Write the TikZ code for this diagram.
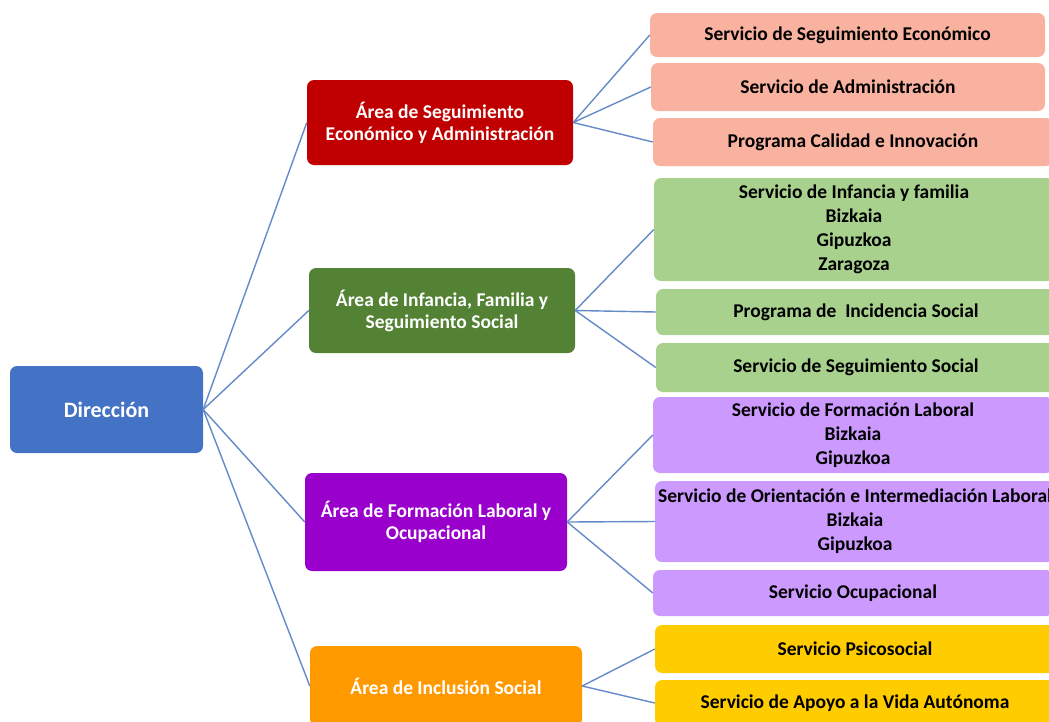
\documentclass[tikz,border=0pt]{standalone}
\usepackage{fontspec}
\setmainfont{Carlito}
\definecolor{dirblue}{RGB}{68,114,196}
\definecolor{areared}{RGB}{192,0,0}
\definecolor{areagreen}{RGB}{84,130,53}
\definecolor{areapurple}{RGB}{153,0,204}
\definecolor{areaorange}{RGB}{255,153,0}
\definecolor{servred}{RGB}{250,178,160}
\definecolor{servgreen}{RGB}{169,209,142}
\definecolor{servpurple}{RGB}{204,153,255}
\definecolor{servyellow}{RGB}{255,204,0}
\definecolor{linkblue}{RGB}{100,138,200}
\usepackage{tikz}

\begin{document}
\begin{tikzpicture}[x=1pt, y=-1pt,
    every node/.style={font=\fontsize{19.5}{24}\selectfont\bfseries, align=center, rounded corners=7pt, inner sep=0pt},
    area/.style={text=white, font=\fontsize{19.5}{22}\selectfont\bfseries},
    serv/.style={text=black, minimum width=400pt},
    link/.style={draw=linkblue, line width=1.4pt}]
    \useasboundingbox (0,0) rectangle (1049,721);
    \node[fill=dirblue, text=white, font=\fontsize{22}{26}\selectfont\bfseries, minimum width=193pt, minimum height=87pt] (dir) at (106.5,409.5) {Dirección};
    % areas
    \node[area, fill=areared, minimum width=266pt, minimum height=85pt] (seg) at (440,122.5) {Área de Seguimiento\\Económico y Administración};
    \node[area, fill=areagreen, minimum width=266pt, minimum height=85pt] (inf) at (442,310.5) {Área de Infancia, Familia y\\Seguimiento Social};
    \node[area, fill=areapurple, minimum width=262pt, minimum height=98pt] (for) at (436,522) {Área de Formación Laboral y\\Ocupacional};
    \node[area, fill=areaorange, minimum width=272pt, minimum height=80pt] (inc) at (446,686) {Área de Inclusión Social};
    % services
    \node[serv, fill=servred, minimum width=395pt, minimum height=44pt] (segeco) at (847.5,35) {Servicio de Seguimiento Económico};
    \node[serv, fill=servred, minimum width=394pt, minimum height=48pt] (segadm) at (848,87) {Servicio de Administración};
    \node[serv, fill=servred, minimum height=48pt] (segcal) at (853,142) {Programa Calidad e Innovación};
    \node[serv, fill=servgreen, minimum height=103pt] (infser) at (854,229.5) {Servicio de Infancia y familia\\Bizkaia\\Gipuzkoa\\Zaragoza};
    \node[serv, fill=servgreen, minimum height=46pt] (infpro) at (856,312) {Programa de\ \ Incidencia Social};
    \node[serv, fill=servgreen, minimum height=49pt] (infseg) at (856,367.5) {Servicio de Seguimiento Social};
    \node[serv, fill=servpurple, minimum height=76pt] (forlab) at (853,435) {Servicio de Formación Laboral\\Bizkaia\\Gipuzkoa};
    \node[serv, fill=servpurple, minimum height=81pt] (forori) at (855,521.5) {Servicio de Orientación e Intermediación Laboral\\Bizkaia\\Gipuzkoa};
    \node[serv, fill=servpurple, minimum height=46pt] (forocu) at (853,593) {Servicio Ocupacional};
    \node[serv, fill=servyellow, minimum height=48pt] (incpsi) at (855,649) {Servicio Psicosocial};
    \node[serv, fill=servyellow, minimum height=46pt] (incapo) at (855,703) {Servicio de Apoyo a la Vida Autónoma};
    % links
    \draw[link] (dir.east) -- (seg.west);
    \draw[link] (dir.east) -- (inf.west);
    \draw[link] (dir.east) -- (for.west);
    \draw[link] (dir.east) -- (inc.west);
    \draw[link] (seg.east) -- (segeco.west);
    \draw[link] (seg.east) -- (segadm.west);
    \draw[link] (seg.east) -- (segcal.west);
    \draw[link] (inf.east) -- (infser.west);
    \draw[link] (inf.east) -- (infpro.west);
    \draw[link] (inf.east) -- (infseg.west);
    \draw[link] (for.east) -- (forlab.west);
    \draw[link] (for.east) -- (forori.west);
    \draw[link] (for.east) -- (forocu.west);
    \draw[link] (inc.east) -- (incpsi.west);
    \draw[link] (inc.east) -- (incapo.west);
\end{tikzpicture}
\end{document}
